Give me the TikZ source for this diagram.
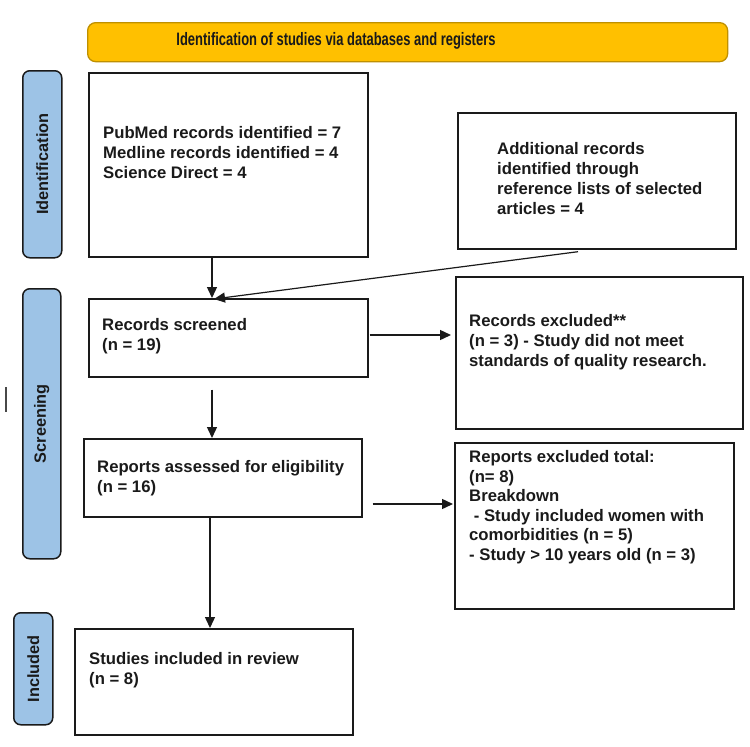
\documentclass[tikz,border=0pt]{standalone}
\usepackage{fontspec}
\setmainfont{Liberation Sans}
\newfontfamily\narrowfont[FakeStretch=0.72]{Liberation Sans}
\usetikzlibrary{arrows.meta}
\definecolor{hdrfill}{HTML}{FFC000}
\definecolor{hdrline}{HTML}{BF9000}
\definecolor{sidefill}{HTML}{9DC3E6}
\definecolor{ink}{HTML}{1A1A1A}
\tikzset{
  boxnode/.style={draw=ink, line width=1.7pt, anchor=north west, inner sep=0pt},
  txt/.style={anchor=west, align=left, inner sep=0pt, text=ink,
    font=\fontsize{16.7}{20}\selectfont\bfseries},
  sidelabel/.style={draw=ink, fill=sidefill, line width=1.5pt, rounded corners=7pt,
    anchor=north west, inner sep=0pt},
  sidetext/.style={rotate=90, inner sep=0pt, text=ink, font=\fontsize{16.3}{18}\selectfont\bfseries},
  arr/.style={draw=ink, line width=1.4pt, -{Triangle[length=11pt,width=10pt]}}
}
\begin{document}
\begin{tikzpicture}[x=1pt,y=-1pt]
\useasboundingbox (0,0) rectangle (750,747);
\fill[white] (0,0) rectangle (750,747);
% header
\node[draw=hdrline, fill=hdrfill, line width=1.3pt, rounded corners=8pt, anchor=north west,
  minimum width=640pt, minimum height=39pt, inner sep=0pt] (hdr) at (87,22) {};
\node[inner sep=0pt, text=ink, font=\fontsize{18}{20}\narrowfont\bfseries] (hdrt) at (336,41)
  {Identification of studies via databases and registers};
% side labels
\node[sidelabel, minimum width=39pt, minimum height=187pt] (sid) at (22,70) {};
\node[sidetext] (sidt) at (sid.center) {Identification};
\node[sidelabel, minimum width=38pt, minimum height=270pt] (sscr) at (22,288) {};
\node[sidetext] (sscrt) at (sscr.center) {Screening};
\node[sidelabel, minimum width=39pt, minimum height=112pt] (sinc) at (13,612) {};
\node[sidetext] (sinct) at (sinc.center) {Included};
% stray mark
\coordinate (m1) at (6,387);
\coordinate (m2) at (6,412);
\draw[draw=ink!80, line width=1.4pt] (m1) -- (m2);
% boxes
\node[boxnode, minimum width=279pt, minimum height=184pt] (pub) at (88,72) {};
\node[txt] (pubt) at (103,153) {PubMed records identified = 7\\Medline records identified = 4\\Science Direct = 4};
\node[boxnode, minimum width=278pt, minimum height=136pt] (add) at (457,112) {};
\node[txt] (addt) at (497,179) {Additional records\\identified through\\reference lists of selected\\articles = 4};
\node[boxnode, minimum width=279pt, minimum height=78pt] (scr) at (88,298) {};
\node[txt] (scrt) at (102,336) {Records screened\\(n = 19)};
\node[boxnode, minimum width=287pt, minimum height=152pt] (exc) at (455,276) {};
\node[txt] (exct) at (469,342) {Records excluded**\\(n = 3) - Study did not meet\\standards of quality research.};
\node[boxnode, minimum width=278pt, minimum height=78pt] (rep) at (83,438) {};
\node[txt] (rept) at (97,478) {Reports assessed for eligibility\\(n = 16)};
\node[boxnode, minimum width=279pt, minimum height=166pt] (rex) at (454,442) {};
\node[txt, font=\fontsize{16.7}{19.5}\selectfont\bfseries] (rext) at (469,507) {Reports excluded total:\\(n= 8)\\Breakdown\\\hspace*{0.28em}- Study included women with\\comorbidities (n = 5)\\- Study {\textgreater} 10 years old (n = 3)};
\node[boxnode, minimum width=278pt, minimum height=106pt] (inc) at (74,628) {};
\node[txt] (inct) at (89,670) {Studies included in review\\(n = 8)};
% connectors
\coordinate (ax) at (212,0);
\coordinate (ax2) at (210,0);
\coordinate (dstart) at (578,0);
\coordinate (dend) at (214,0);
\draw[arr] (pub.south -| ax) -- (scr.north -| ax);
\draw[arr, line width=1.2pt] ([yshift=-2pt]add.south -| dstart) -- ([yshift=-1pt]scr.north -| dend);
\draw[arr] ([yshift=-12pt]scr.south -| ax) -- (rep.north -| ax);
\draw[arr] (rep.south -| ax2) -- (inc.north -| ax2);
\coordinate (ey1) at (0,335);
\coordinate (ey2) at (0,504);
\draw[arr, shorten <=1pt, shorten >=4pt] (scr.east |- ey1) -- (exc.west |- ey1);
\draw[arr, shorten <=10pt, shorten >=1pt] (rep.east |- ey2) -- (rex.west |- ey2);
\end{tikzpicture}
\end{document}
